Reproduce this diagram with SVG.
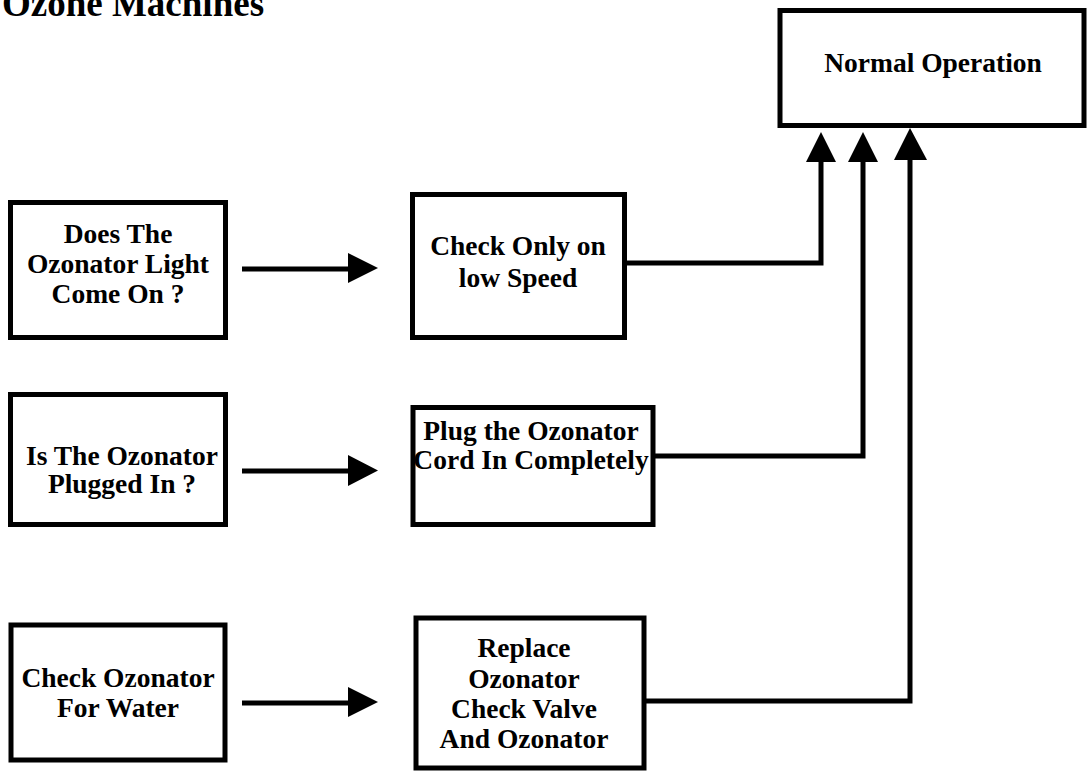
<svg xmlns="http://www.w3.org/2000/svg" width="1087" height="772" viewBox="0 0 1087 772">
<style>
.box{fill:#fff;stroke:#000;stroke-width:5}
.lbl{font-family:"Liberation Serif","Times New Roman",serif;font-weight:bold;font-size:27.5px;fill:#000;text-anchor:middle}
.title{font-family:"Liberation Serif","Times New Roman",serif;font-weight:bold;font-size:37px;fill:#000}
.wire{fill:none;stroke:#000;stroke-width:5}
.head{fill:#000}
</style>
<rect width="1087" height="772" fill="#fff"/>
<text class="title" x="2" y="16">Ozone Machines</text>
<g id="node-normal">
<rect class="box" x="780" y="10.5" width="304" height="115"/>
<text class="lbl" x="933" y="72">Normal Operation</text>
</g>
<g id="node-light">
<rect class="box" x="10.5" y="202.5" width="215" height="135"/>
<text class="lbl" x="118" y="243">Does The</text>
<text class="lbl" x="118" y="273">Ozonator Light</text>
<text class="lbl" x="118" y="303">Come On ?</text>
</g>
<g id="node-lowspeed">
<rect class="box" x="412.5" y="194.5" width="212" height="143"/>
<text class="lbl" x="518" y="255">Check Only on</text>
<text class="lbl" x="518" y="287">low Speed</text>
</g>
<g id="node-plugged">
<rect class="box" x="10.5" y="394.5" width="215" height="130"/>
<text class="lbl" x="122" y="465">Is The Ozonator</text>
<text class="lbl" x="122" y="493">Plugged In ?</text>
</g>
<g id="node-plugcord">
<rect class="box" x="413" y="407.5" width="240" height="117"/>
<text class="lbl" x="531" y="440">Plug the Ozonator</text>
<text class="lbl" x="531" y="469">Cord In Completely</text>
</g>
<g id="node-water">
<rect class="box" x="11" y="625" width="214" height="135"/>
<text class="lbl" x="118" y="687">Check Ozonator</text>
<text class="lbl" x="118" y="717">For Water</text>
</g>
<g id="node-replace">
<rect class="box" x="416" y="618" width="228" height="150"/>
<text class="lbl" x="524" y="657">Replace</text>
<text class="lbl" x="524" y="688">Ozonator</text>
<text class="lbl" x="524" y="718">Check Valve</text>
<text class="lbl" x="524" y="748">And Ozonator</text>
</g>
<g id="connectors">
<line class="wire" x1="242" y1="269" x2="350" y2="269"/>
<polygon class="head" points="348,253 378,268 348,283"/>
<line class="wire" x1="242" y1="471" x2="350" y2="471"/>
<polygon class="head" points="348,455 378,470.5 348,486"/>
<line class="wire" x1="242" y1="703" x2="350" y2="703"/>
<polygon class="head" points="348,687 378,702 348,717"/>
<polyline class="wire" points="627,263 821,263 821,160"/>
<polygon class="head" points="821,132 806,162 836,162"/>
<polyline class="wire" points="655,456 863,456 863,160"/>
<polygon class="head" points="863,132 848,162 878,162"/>
<polyline class="wire" points="646,701 910,701 910,158"/>
<polygon class="head" points="910,128 894,160 927,160"/>
</g>
</svg>
